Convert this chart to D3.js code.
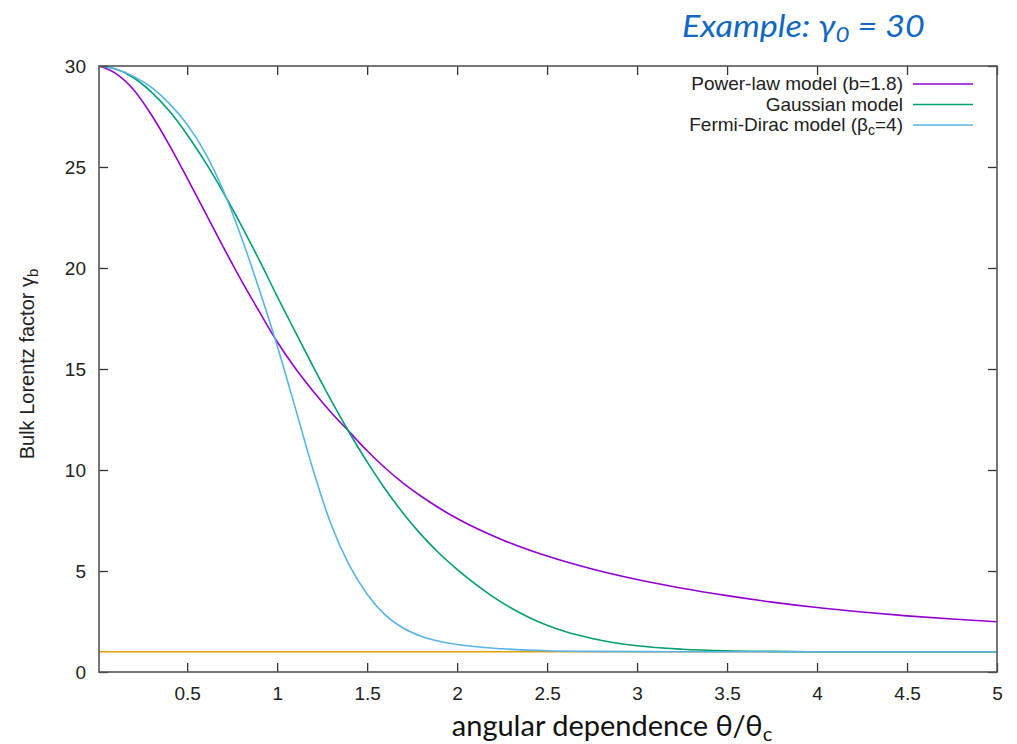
<!DOCTYPE html>
<html>
<head>
<meta charset="utf-8">
<title>Bulk Lorentz factor</title>
<script src="https://d3js.org/d3.v7.min.js"></script>
<style>
  body { margin: 0; background: #fff; }
  svg { display: block; }
  .tick text { font-family: "Liberation Sans", Arial, sans-serif; font-size: 19px; fill: #222; }
</style>
</head>
<body>
<svg id="chart" width="1017" height="744"></svg>
<script>
// values
const thetaPL = [0, 0.1, 0.2, 0.3, 0.4, 0.5, 0.6, 0.7, 0.8, 0.9, 1.0, 1.1, 1.2, 1.3, 1.4, 1.5, 1.6, 1.7, 1.8, 1.9, 2.0, 2.25, 2.5, 2.75, 3.0, 3.25, 3.5, 3.75, 4.0, 4.25, 4.5, 4.75, 5.0];
const gammaPL = [30, 29.65, 28.85, 27.6, 26.1, 24.45, 22.75, 21.05, 19.4, 17.85, 16.35, 15.05, 13.9, 12.85, 11.9, 10.95, 10.1, 9.35, 8.7, 8.12, 7.6, 6.55, 5.74, 5.1, 4.58, 4.15, 3.78, 3.46, 3.19, 2.97, 2.78, 2.62, 2.49];

const thetaGa = [0, 0.1, 0.2, 0.3, 0.4, 0.5, 0.6, 0.7, 0.8, 0.9, 1.0, 1.1, 1.2, 1.3, 1.4, 1.5, 1.6, 1.7, 1.8, 1.9, 2.0, 2.1, 2.2, 2.3, 2.4, 2.5, 2.6, 2.75, 3.0, 3.25, 3.5, 3.75, 4.0, 5.0];
const gammaGa = [30, 29.86, 29.43, 28.72, 27.78, 26.6, 25.25, 23.75, 22.12, 20.4, 18.6, 16.85, 15.12, 13.45, 11.87, 10.4, 9.06, 7.86, 6.8, 5.88, 5.08, 4.36, 3.72, 3.17, 2.7, 2.31, 2.0, 1.66, 1.3, 1.13, 1.05, 1.02, 1.0, 1.0];

const thetaFD = [0, 0.1, 0.2, 0.3, 0.4, 0.5, 0.6, 0.7, 0.8, 0.9, 1.0, 1.1, 1.2, 1.3, 1.4, 1.5, 1.6, 1.7, 1.8, 1.9, 2.0, 2.25, 2.5, 2.75, 3.0, 3.5, 5.0];
const gammaFD = [30, 29.85, 29.5, 28.95, 28.15, 27.1, 25.7, 23.85, 21.55, 18.95, 16.15, 13.1, 10.0, 7.3, 5.3, 3.85, 2.83, 2.18, 1.77, 1.52, 1.36, 1.15, 1.05, 1.02, 1.01, 1.0, 1.0];

const thetaOne = [0.01, 5];
const gammaOne = [1, 1];

const xTicks = [0.5, 1, 1.5, 2, 2.5, 3, 3.5, 4, 4.5, 5];
const yTicks = [0, 5, 10, 15, 20, 25, 30];

const series = [
  {name: "Power-law model (b=1.8)", theta: thetaPL, gamma: gammaPL, color: "#9400d3", legend: true},
  {name: "Gaussian model", theta: thetaGa, gamma: gammaGa, color: "#009e73", legend: true},
  {name: "Fermi-Dirac model (βc=4)", theta: thetaFD, gamma: gammaFD, color: "#56b4e9", legend: true},
  {name: "γ = 1", theta: thetaOne, gamma: gammaOne, color: "#e69f00", legend: false}
];

const mLeft = 99, mRight = 997, mTop = 66, mBottom = 672;
const svg = d3.select("#chart");

const x = d3.scaleLinear().domain([0.01, 5]).range([mLeft, mRight]);
const y = d3.scaleLinear().domain([0, 30]).range([mBottom, mTop]);

// curves
const line = d3.line()
  .x(d => x(Math.max(d[0], 0.01)))
  .y(d => y(d[1]))
  .curve(d3.curveMonotoneX);

svg.append("clipPath").attr("id", "clip")
  .append("rect").attr("x", mLeft).attr("y", mTop).attr("width", mRight - mLeft).attr("height", mBottom - mTop);

const plot = svg.append("g").attr("clip-path", "url(#clip)");
// orange first so the others sit on top, like the reference
[series[3], series[0], series[1], series[2]].forEach(s => {
  plot.append("path")
    .datum(s.theta.map((t, i) => [t, s.gamma[i]]))
    .attr("fill", "none")
    .attr("stroke", s.color)
    .attr("stroke-width", 1.6)
    .attr("d", line);
});

// axes, ticks pointing inward, mirrored on top/right
const tickLen = 9;
const xAxis = d3.axisBottom(x).tickValues(xTicks).tickSizeInner(-tickLen).tickSizeOuter(0).tickPadding(15).tickFormat(d3.format("~g"));
const yAxis = d3.axisLeft(y).tickValues(yTicks).tickSizeInner(-tickLen).tickSizeOuter(0).tickPadding(13).tickFormat(d3.format("d"));

svg.append("g").attr("transform", `translate(0,${mBottom})`).call(xAxis)
  .call(g => g.select(".domain").remove());
svg.append("g").attr("transform", `translate(${mLeft},0)`).call(yAxis)
  .call(g => g.select(".domain").remove());
svg.append("g").attr("transform", `translate(0,${mTop})`)
  .call(d3.axisTop(x).tickValues(xTicks).tickSizeInner(-tickLen).tickSizeOuter(0).tickFormat(""))
  .call(g => g.select(".domain").remove());
svg.append("g").attr("transform", `translate(${mRight},0)`)
  .call(d3.axisRight(y).tickValues(yTicks).tickSizeInner(-tickLen).tickSizeOuter(0).tickFormat(""))
  .call(g => g.select(".domain").remove());

svg.selectAll(".tick line").attr("stroke", "#333").attr("stroke-width", 1.3);

svg.append("rect")
  .attr("x", mLeft).attr("y", mTop).attr("width", mRight - mLeft).attr("height", mBottom - mTop)
  .attr("fill", "none").attr("stroke", "#555").attr("stroke-width", 1.6);

// legend
const legend = svg.append("g").attr("font-family", "Liberation Sans, Arial, sans-serif").attr("font-size", 19).attr("fill", "#222");
series.filter(s => s.legend).forEach((s, i) => {
  const ly = 84 + i * 20.5;
  legend.append("line").attr("x1", 913).attr("x2", 973).attr("y1", ly).attr("y2", ly)
    .attr("stroke", s.color).attr("stroke-width", 1.6);
  const t = legend.append("text").attr("x", 903).attr("y", ly + 6).attr("text-anchor", "end");
  if (i === 2) {
    t.append("tspan").text("Fermi-Dirac model (β");
    t.append("tspan").attr("font-size", 14).attr("dy", 4).text("c");
    t.append("tspan").attr("dy", -4).text("=4)");
  } else {
    t.text(s.name);
  }
});

// y label
const yl = svg.append("text")
  .attr("transform", `translate(34,364) rotate(-90)`)
  .attr("text-anchor", "middle")
  .attr("font-family", "Liberation Sans, Arial, sans-serif")
  .attr("font-size", 20).attr("fill", "#222");
yl.append("tspan").text("Bulk Lorentz factor γ");
yl.append("tspan").attr("font-size", 15).attr("dy", 4).text("b");

// x label
const xl = svg.append("text")
  .attr("x", 612).attr("y", 736)
  .attr("text-anchor", "middle")
  .attr("font-family", "Lato, 'Open Sans', sans-serif")
  .attr("font-size", 29).attr("fill", "#111");
xl.append("tspan").text("angular dependence θ/θ");
xl.append("tspan").attr("font-size", 20).attr("dy", 5).text("c");

// title
const title = svg.append("text")
  .attr("transform", "translate(682,37) scale(1.1,1)")
  .attr("font-family", "Lato, 'Open Sans', sans-serif")
  .attr("font-style", "italic")
  .attr("font-size", 31).attr("fill", "#1168c2");
title.append("tspan").text("Example: γ");
title.append("tspan").attr("font-size", 22).attr("dy", 5).text("0");
title.append("tspan").attr("dy", -5).text(" = 30");
</script>
</body>
</html>
